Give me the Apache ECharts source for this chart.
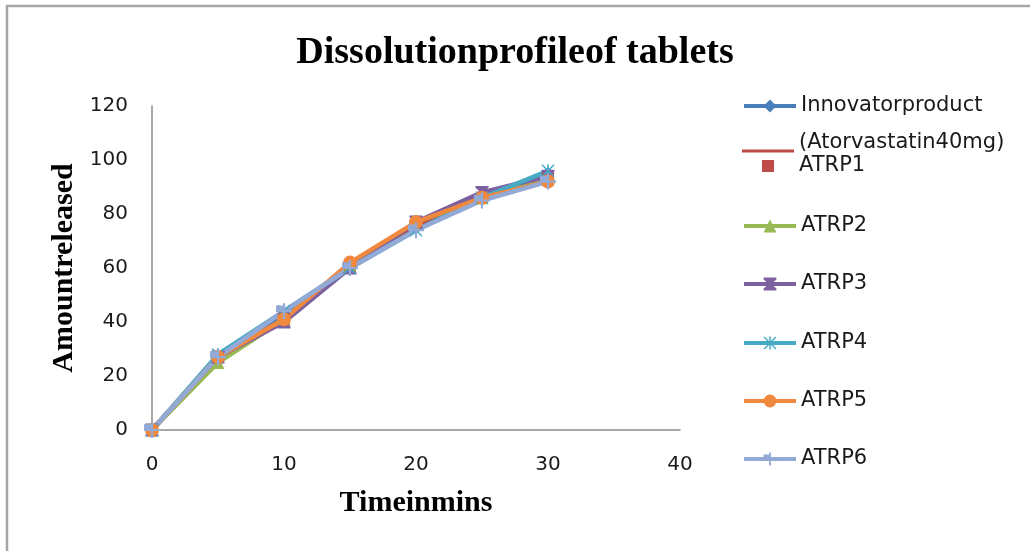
<!DOCTYPE html>
<html>
<head>
<meta charset="utf-8">
<script src="https://cdn.jsdelivr.net/npm/echarts@6/dist/echarts.min.js"></script>
<style>html,body{margin:0;padding:0;background:#fff;}#c{width:1030px;height:551px;}</style>
</head>
<body>
<div id="c"></div>
<script>
const timePoints = [0, 5, 10, 15, 20, 25, 30];
const innovator = [0, 27, 43, 60, 75, 86, 95];
const atrp1 = [0, 27, 41, 61, 76, 86, 93];
const atrp2 = [0, 25, 41, 61, 77, 86, 93];
const atrp3 = [0, 27, 40, 60, 77, 88, 94];
const atrp4 = [0, 28, 44, 60, 74, 86, 96];
const atrp5 = [0, 27, 41, 62, 77, 86, 92];
const atrp6 = [0, 27, 44, 60, 74, 85, 92];
const seriesNames = ['Innovatorproduct (Atorvastatin40mg)', 'ATRP1', 'ATRP2', 'ATRP3', 'ATRP4', 'ATRP5', 'ATRP6'];
const titleText = 'Dissolutionprofileof tablets';
const xTitle = 'Timeinmins';
const yTitle = 'Amountreleased';

const colors = ['#4A7EBB', '#BE4B48', '#98B954', '#7D60A0', '#46AAC5', '#F0883E', '#93A9D6'];
const symbols = [
  'diamond',
  'rect',
  'triangle',
  'path://M0,0 L10,0 L10,1.5 L6,5 L10,8.5 L10,10 L0,10 L0,8.5 L4,5 L0,1.5 Z',
  'path://M4.4,0h1.2v10h-1.2z M0.8,0 L5,4.2 L9.2,0 L10,0.8 L5.8,5 L10,9.2 L9.2,10 L5,5.8 L0.8,10 L0,9.2 L4.2,5 L0,0.8 Z',
  'circle',
  'path://M4.3,0h1.4v4.3h4.3v1.4h-4.3v4.3h-1.4v-4.3h-4.3v-4.3h4.3z'
];
const symbolSizes = [13, 12, 13, 13, 13, 14, 16];
const dataSets = [innovator, atrp1, atrp2, atrp3, atrp4, atrp5, atrp6];

const series = seriesNames.map((n, i) => ({
  name: n,
  type: 'line',
  data: timePoints.map((t, j) => [t, dataSets[i][j]]),
  symbol: symbols[i],
  symbolSize: symbolSizes[i],
  showAllSymbol: true,
  lineStyle: { color: colors[i], width: 4.5 },
  itemStyle: { color: colors[i] },
  emphasis: { disabled: true },
  animation: false
}));

const legendCenters = [106, 166, 226, 284, 343, 401, 459];
const legendFont = { fontFamily: 'DejaVu Sans', fontSize: 21, color: '#1a1a1a', lineHeight: 24 };
const legends = seriesNames.map((n, i) => {
  const l = {
    data: [n],
    orient: 'vertical',
    left: 742,
    top: legendCenters[i] - 12,
    padding: 0,
    itemWidth: 52,
    itemHeight: 16,
    textStyle: legendFont,
    lineStyle: { width: 4 },
    selectedMode: false
  };
  if (i === 0) l.formatter = () => 'Innovatorproduct';
  if (i === 1) {
    l.icon = 'path://M0,0h0.05v0.05h-0.05z M20,-6h12v12h-12z M51.95,0h0.05v0.05h-0.05z';
    l.itemHeight = 14;
  }
  return l;
});

const chart = echarts.init(document.getElementById('c'), null, { renderer: 'canvas' });
chart.setOption({
  animation: false,
  backgroundColor: '#fff',
  color: colors,
  title: {
    text: titleText,
    left: 'center',
    top: 29,
    textStyle: { fontFamily: 'Liberation Serif', fontWeight: 'bold', fontSize: 38, color: '#000' }
  },
  legend: legends,
  grid: { left: 152, right: 350, top: 106, bottom: 121 },
  xAxis: {
    type: 'value',
    min: 0, max: 40, interval: 10,
    name: xTitle,
    nameLocation: 'middle',
    nameGap: 58,
    nameTextStyle: { fontFamily: 'Liberation Serif', fontWeight: 'bold', fontSize: 30, color: '#000' },
    axisLine: { show: true, lineStyle: { color: '#8c8c8c', width: 1.5 } },
    axisTick: { show: false },
    splitLine: { show: false },
    axisLabel: { margin: 25, fontFamily: 'DejaVu Sans', fontSize: 20, color: '#1a1a1a' }
  },
  yAxis: {
    type: 'value',
    min: 0, max: 120, interval: 20,
    name: yTitle,
    nameLocation: 'middle',
    nameGap: 72,
    nameTextStyle: { fontFamily: 'Liberation Serif', fontWeight: 'bold', fontSize: 30, color: '#000' },
    axisLine: { show: true, lineStyle: { color: '#8c8c8c', width: 1.5 } },
    axisTick: { show: false },
    splitLine: { show: false },
    axisLabel: { margin: 24, fontFamily: 'DejaVu Sans', fontSize: 20, color: '#1a1a1a' }
  },
  graphic: [
    { type: 'rect', shape: { x: 7, y: 6, width: 1100, height: 700 }, style: { fill: 'none', stroke: '#a6a6a6', lineWidth: 2.5 }, silent: true },
    { type: 'text', left: 799, top: 132, style: { text: '(Atorvastatin40mg)', fontFamily: 'DejaVu Sans', fontSize: 21, fill: '#1a1a1a' }, silent: true },
    { type: 'line', shape: { x1: 742, y1: 151, x2: 794, y2: 151 }, style: { stroke: colors[1], lineWidth: 3 }, silent: true }
  ],
  series: series
});
</script>
</body>
</html>
